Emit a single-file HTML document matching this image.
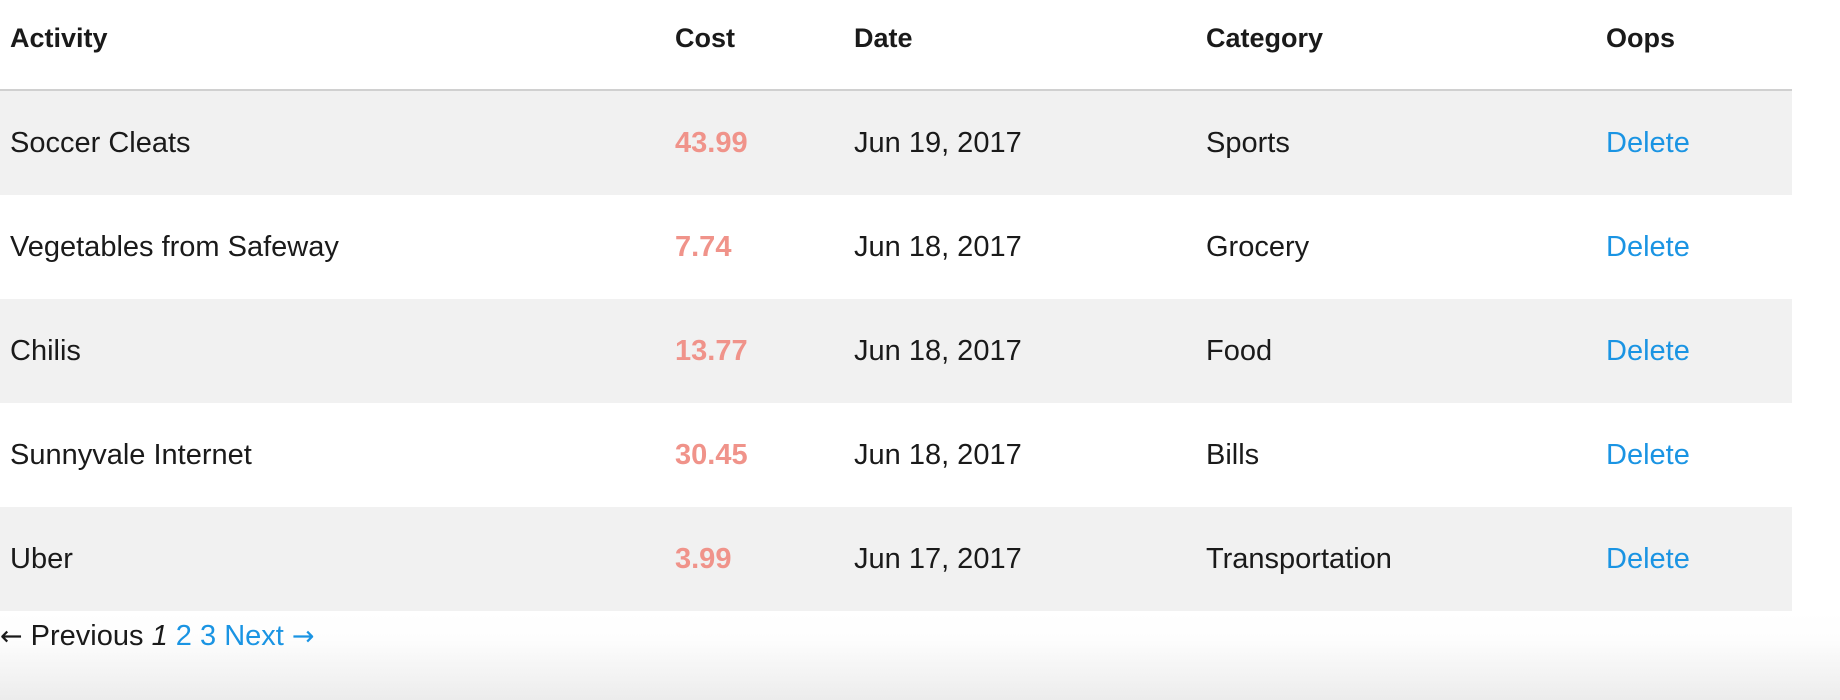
<!DOCTYPE html>
<html><head><meta charset="utf-8"><style>
html,body{margin:0;padding:0;width:1840px;height:700px;overflow:hidden;}
body{background:linear-gradient(to bottom,#fff 0,#fff 612px,#fdfdfd 640px,#ececec 700px);font-family:"Liberation Sans",sans-serif;color:#1a1a1a;position:relative;}
table{position:absolute;left:0;top:0;width:1792px;border-collapse:collapse;font-size:29px;}
th{font-weight:bold;font-size:27px;text-align:left;height:77px;padding:0 0 12px 0;border-bottom:2px solid #d0d0d0;}
td{height:104px;padding:0;}
tr.odd td{background:#f1f1f1;}
tr.even td{background:#fff;}
.c1{padding-left:10px;width:665px;}
.c2{width:179px;}
.c3{width:352px;}
.c4{width:400px;}
.cost{color:#f0938a;font-weight:bold;}
a{color:#1a94e3;text-decoration:none;}
.pag{position:absolute;left:0;top:620px;font-size:29px;}
.arr{font-family:"DejaVu Sans",sans-serif;font-size:27px;}
</style></head><body>
<table>
<thead><tr>
<th class="c1">Activity</th>
<th class="c2">Cost</th>
<th class="c3">Date</th>
<th class="c4">Category</th>
<th>Oops</th></tr></thead>
<tbody>
<tr class="odd"><td class="c1">Soccer Cleats</td><td class="c2 cost">43.99</td><td class="c3">Jun 19, 2017</td><td class="c4">Sports</td><td><a href="#">Delete</a></td></tr>
<tr class="even"><td class="c1">Vegetables from Safeway</td><td class="c2 cost">7.74</td><td class="c3">Jun 18, 2017</td><td class="c4">Grocery</td><td><a href="#">Delete</a></td></tr>
<tr class="odd"><td class="c1">Chilis</td><td class="c2 cost">13.77</td><td class="c3">Jun 18, 2017</td><td class="c4">Food</td><td><a href="#">Delete</a></td></tr>
<tr class="even"><td class="c1">Sunnyvale Internet</td><td class="c2 cost">30.45</td><td class="c3">Jun 18, 2017</td><td class="c4">Bills</td><td><a href="#">Delete</a></td></tr>
<tr class="odd"><td class="c1">Uber</td><td class="c2 cost">3.99</td><td class="c3">Jun 17, 2017</td><td class="c4">Transportation</td><td><a href="#">Delete</a></td></tr>
</tbody></table>
<div class="pag"><span><span class="arr">←</span> Previous</span> <i>1</i> <a href="#">2</a> <a href="#">3</a> <a href="#">Next <span class="arr">→</span></a></div>
</body></html>
